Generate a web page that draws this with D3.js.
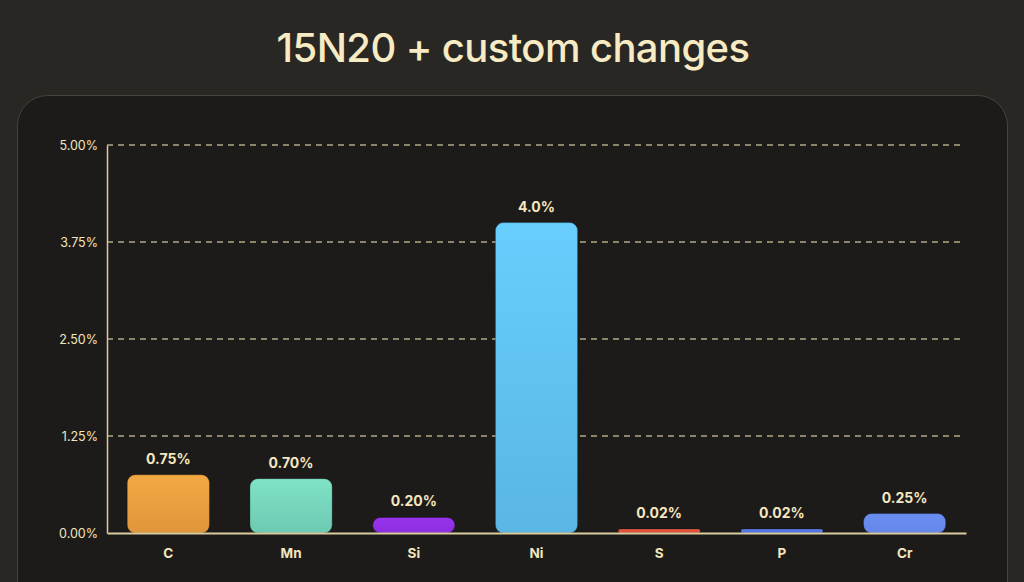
<!DOCTYPE html>
<html><head><meta charset="utf-8">
<script src="https://cdn.jsdelivr.net/npm/d3@7"></script>
<style>
html,body{margin:0;padding:0;background:#292723;}
svg{display:block;}
</style></head>
<body>
<svg id="c" width="1024" height="582"></svg>
<script>
const categories = ["C","Mn","Si","Ni","S","P","Cr"];
const values = [0.75,0.70,0.20,4.0,0.02,0.02,0.25];
const valueLabels = ["0.75%","0.70%","0.20%","4.0%","0.02%","0.02%","0.25%"];
const topColors = ["#f2a842","#7fe2c6","#9633ee","#68cefd","#ea5a45","#5c7df0","#6a8ef2"];
const bottomColors = ["#e0963a","#6dcab2","#8d2ee0","#5ab6e2","#d94a38","#5170dc","#6586ea"];
const tickValues = [0,1.25,2.5,3.75,5];

const svg = d3.select("#c");
const W = 1024, H = 582;
const font = "Inter, 'Noto Sans', sans-serif";

// card
svg.append("rect").attr("x",17.5).attr("y",95.5).attr("width",990).attr("height",540)
  .attr("rx",30).attr("fill","#1d1b19").attr("stroke","#46433a").attr("stroke-width",1);

svg.append("text").attr("x",513).attr("y",62).attr("text-anchor","middle")
  .attr("font-family",font).attr("font-size",40).attr("font-weight",500)
  .attr("letter-spacing","-0.6").attr("fill","#f7ebc4").text("15N20 + custom changes");

const m = {left:107, right:966, top:145, bottom:533};
const x = d3.scaleBand().domain(categories).range([m.left,m.right]).paddingInner(0.33).paddingOuter(0.165);
const y = d3.scaleLinear().domain([0,5]).range([m.bottom,m.top]);

const defs = svg.append("defs");
categories.forEach((c,i)=>{
  const g = defs.append("linearGradient").attr("id","g"+i).attr("x1",0).attr("y1",0).attr("x2",0).attr("y2",1);
  g.append("stop").attr("offset","0%").attr("stop-color",topColors[i]);
  g.append("stop").attr("offset","100%").attr("stop-color",bottomColors[i]);
});

// grid
const grid = svg.append("g");
grid.selectAll("line").data(tickValues.filter(d=>d>0)).enter().append("line")
  .attr("x1",m.left).attr("x2",962).attr("y1",d=>y(d)).attr("y2",d=>y(d))
  .attr("stroke","#b3a987").attr("stroke-width",1.4).attr("stroke-dasharray","6,5");

// y axis
const yAxis = d3.axisLeft(y).tickValues(tickValues).tickSize(0).tickPadding(9)
  .tickFormat(d=>d3.format(".2f")(d)+"%");
const ya = svg.append("g").attr("transform",`translate(${m.left},0)`).call(yAxis);
ya.select(".domain").attr("stroke","#d9cc9f").attr("stroke-width",1.5);
ya.selectAll("text").attr("font-family",font).attr("font-size",12.5).attr("fill","#f3e6bf");

// bars
const bars = svg.append("g");
categories.forEach((c,i)=>{
  const v = values[i];
  const h = Math.max(y(0)-y(v), 4);
  const bw = x.bandwidth();
  const r = Math.min(8, h/2);
  bars.append("rect").attr("x",x(c)).attr("y",y(0)-h).attr("width",bw).attr("height",h)
    .attr("rx",r).attr("fill","url(#g"+i+")").attr("stroke","rgba(0,0,0,0.25)").attr("stroke-width",1);
});

// baseline
const xAxis = d3.axisBottom(x).tickSize(0).tickPadding(15);
const xa = svg.append("g").attr("transform",`translate(0,${m.bottom})`).call(xAxis);
xa.select(".domain").attr("stroke","#d9cc9f").attr("stroke-width",2);
xa.selectAll("text").attr("font-family",font).attr("font-size",13.5).attr("font-weight",700).attr("fill","#f3e6bf");

// value labels
svg.append("g").selectAll("text").data(categories).enter().append("text")
  .attr("x",c=>x(c)+x.bandwidth()/2)
  .attr("y",(c,i)=>y(0)-Math.max(y(0)-y(values[i]),4)-11)
  .attr("text-anchor","middle").attr("font-family",font).attr("font-size",14).attr("font-weight",700)
  .attr("fill","#f5e7c0").text((c,i)=>valueLabels[i]);
</script>
</body></html>
